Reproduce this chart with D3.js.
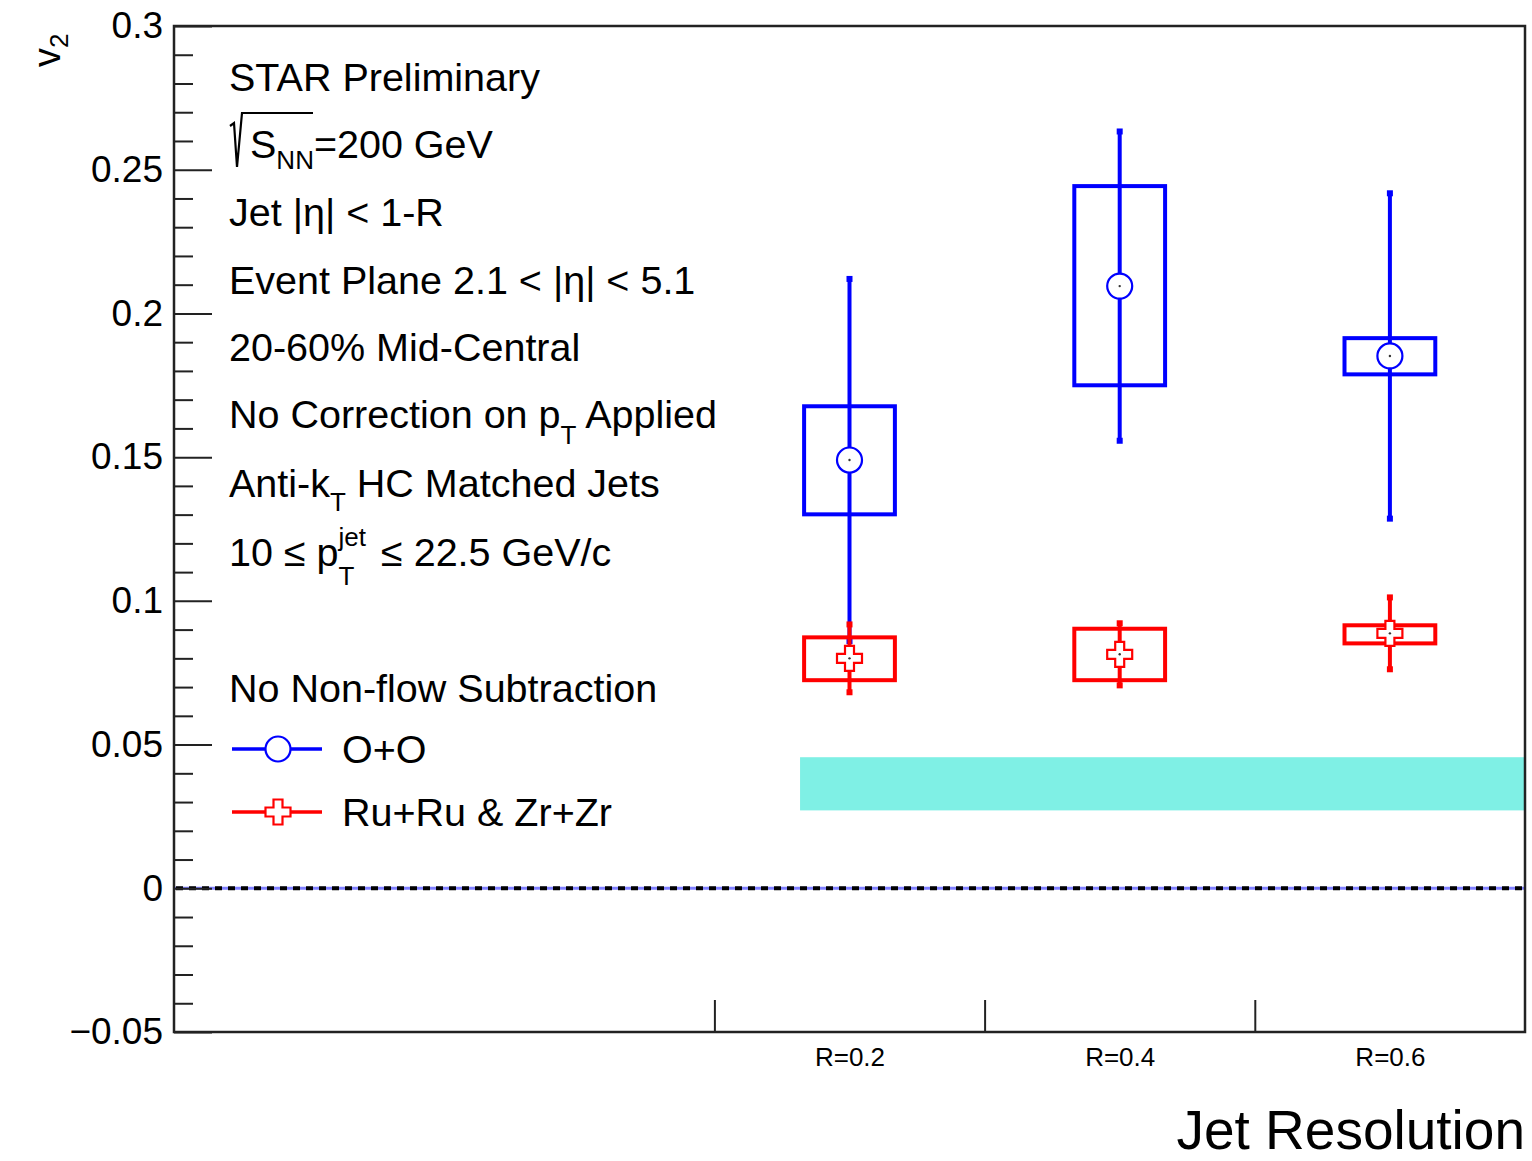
<!DOCTYPE html>
<html>
<head>
<meta charset="utf-8">
<script src="https://cdn.jsdelivr.net/npm/d3@7"></script>
<style>
  html, body { margin: 0; padding: 0; background: #fff; }
  text { font-family: "Liberation Sans", Arial, Helvetica, sans-serif; fill: #000; }
</style>
</head>
<body>
<svg id="chart" width="1532" height="1161"></svg>
<script>
// ---------------- data ----------------
const categories = ["R=0.2", "R=0.4", "R=0.6"];
const binIndex = [2.5, 3.5, 4.5];           // bin centres on a 5-bin axis (0..5)
const binEdgeTicks = [2, 3, 4];

const series = ["O+O", "Ru+Ru & Zr+Zr"];

const ooValue   = [0.149, 0.2095, 0.1852];
const ooStatErr = [0.063, 0.0538, 0.0566];
const ooSysLow  = [0.1301, 0.1750, 0.1788];
const ooSysHigh = [0.1677, 0.2443, 0.1914];

const ruValue   = [0.0800, 0.0814, 0.0887];
const ruStatErr = [0.0118, 0.0108, 0.0125];
const ruSysLow  = [0.0724, 0.0724, 0.0852];
const ruSysHigh = [0.0873, 0.0903, 0.0915];

const boxHalfWidth = 0.168;   // in bin units

const bandX = [2.317, 5];          // cyan band extent
const bandY = [0.0271, 0.0456];

const yMajorTicks = [-0.05, 0, 0.05, 0.1, 0.15, 0.2, 0.25, 0.3];
const yTickLabels = ["\u22120.05", "0", "0.05", "0.1", "0.15", "0.2", "0.25", "0.3"];

const infoLines = [
  "STAR Preliminary",
  "SQRT",
  "Jet |\u03b7| < 1-R",
  "Event Plane 2.1 < |\u03b7| < 5.1",
  "20-60% Mid-Central",
  "PT_CORR",
  "ANTIKT",
  "PTJET",
  "",
  "No Non-flow Subtraction"
];

// ---------------- layout ----------------
const svg = d3.select("#chart");
const L = 174, R = 1525, T = 26, B = 1032;
const x = d3.scaleLinear().domain([0, 5]).range([L, R]);
const y = d3.scaleLinear().domain([-0.05, 0.3]).range([B, T]);

const blue = "#0000ff", red = "#ff0000";

// cyan band
svg.append("rect")
  .attr("x", x(bandX[0])).attr("y", y(bandY[1]))
  .attr("width", x(bandX[1]) - x(bandX[0]))
  .attr("height", y(bandY[0]) - y(bandY[1]))
  .attr("fill", "#7ff0e5");

// zero line: blue underline + black dashes
svg.append("line").attr("x1", L).attr("x2", R).attr("y1", y(0)).attr("y2", y(0))
  .attr("stroke", "#8080ff").attr("stroke-width", 3);
svg.append("line").attr("x1", L + 2).attr("x2", R).attr("y1", y(0)).attr("y2", y(0))
  .attr("stroke", "#000").attr("stroke-width", 4).attr("stroke-dasharray", "7,6");

// y axis major + minor
const yMinor = d3.range(-0.05, 0.3001, 0.01).filter(v => Math.abs(v / 0.05 - Math.round(v / 0.05)) > 1e-6);
svg.append("g").attr("transform", `translate(${L},0)`)
  .call(d3.axisLeft(y).tickValues(yMinor).tickSize(-19).tickFormat(""))
  .call(g => g.select(".domain").remove())
  .call(g => g.selectAll("line").attr("stroke", "#222").attr("stroke-width", 2));
svg.append("g").attr("transform", `translate(${L},0)`)
  .call(d3.axisLeft(y).tickValues(yMajorTicks).tickSize(-38).tickPadding(11)
        .tickFormat((d, i) => yTickLabels[i]))
  .call(g => g.select(".domain").remove())
  .call(g => g.selectAll("line").attr("stroke", "#222").attr("stroke-width", 2))
  .call(g => g.selectAll("text").attr("font-size", 37)
        .attr("font-family", "'Liberation Sans', Arial, sans-serif").attr("fill", "#000"));

// x axis ticks at bin edges
svg.append("g").attr("transform", `translate(0,${B})`)
  .call(d3.axisBottom(x).tickValues(binEdgeTicks).tickSize(-32).tickFormat(""))
  .call(g => g.select(".domain").remove())
  .call(g => g.selectAll("line").attr("stroke", "#222").attr("stroke-width", 2));
// x labels at bin centres
svg.append("g").attr("transform", `translate(0,${B})`)
  .call(d3.axisBottom(x).tickValues(binIndex).tickSize(0).tickPadding(16)
        .tickFormat((d, i) => categories[i]))
  .call(g => g.select(".domain").remove())
  .call(g => g.selectAll("text").attr("font-size", 26)
        .attr("font-family", "'Liberation Sans', Arial, sans-serif").attr("fill", "#000"));

// frame
svg.append("rect").attr("x", L).attr("y", T).attr("width", R - L).attr("height", B - T)
  .attr("fill", "none").attr("stroke", "#222").attr("stroke-width", 2.5);

// axis titles
svg.append("text").attr("x", 1525).attr("y", 1149).attr("text-anchor", "end")
  .attr("font-size", 55).text("Jet Resolution");
const yt = svg.append("text").attr("transform", "translate(60,67) rotate(-90)")
  .attr("font-size", 38);
yt.append("tspan").text("v");
yt.append("tspan").attr("font-size", 26).attr("dy", 8).text("2");

// ---------------- markers ----------------
function circleMarker(g, cx, cy, col) {
  g.append("circle").attr("cx", cx).attr("cy", cy).attr("r", 12.5)
    .attr("fill", "#fff").attr("stroke", col).attr("stroke-width", 2.2);
}
function crossMarker(g, cx, cy, col) {
  const a = 4.5, s = 12.5;
  const pts = [[-a,-s],[a,-s],[a,-a],[s,-a],[s,a],[a,a],[a,s],[-a,s],[-a,a],[-s,a],[-s,-a],[-a,-a]];
  g.append("path").attr("d", "M" + pts.map(p => (cx + p[0]) + "," + (cy + p[1])).join("L") + "Z")
    .attr("fill", "#fff").attr("stroke", col).attr("stroke-width", 2.2);
}
function centreDot(g, cx, cy) {
  g.append("circle").attr("cx", cx).attr("cy", cy).attr("r", 1.2).attr("fill", "#333");
}

function drawSeries(vals, errs, lo, hi, col, marker) {
  const g = svg.append("g");
  vals.forEach((v, i) => {
    const cx = x(binIndex[i]);
    g.append("rect")
      .attr("x", x(binIndex[i] - boxHalfWidth)).attr("y", y(hi[i]))
      .attr("width", x(binIndex[i] + boxHalfWidth) - x(binIndex[i] - boxHalfWidth))
      .attr("height", y(lo[i]) - y(hi[i]))
      .attr("fill", "none").attr("stroke", col).attr("stroke-width", 4);
    g.append("line").attr("x1", cx).attr("x2", cx)
      .attr("y1", y(v + errs[i])).attr("y2", y(v - errs[i]))
      .attr("stroke", col).attr("stroke-width", 4);
    [v + errs[i], v - errs[i]].forEach(e => {
      g.append("rect").attr("x", cx - 3).attr("y", y(e) - 3).attr("width", 6).attr("height", 6).attr("fill", col);
    });
    marker(g, cx, y(v), col);
    centreDot(g, cx, y(v));
  });
}
drawSeries(ooValue, ooStatErr, ooSysLow, ooSysHigh, blue, circleMarker);
drawSeries(ruValue, ruStatErr, ruSysLow, ruSysHigh, red, crossMarker);

// ---------------- info text ----------------
const tx = 229, fs = 39.5, sub = 26;
const baselines = [91, 158, 226, 294, 361, 428, 497, 566, 634, 702];
function plain(yb, s) {
  return svg.append("text").attr("x", tx).attr("y", yb).attr("font-size", fs).text(s);
}
function measure(s, size) {
  const t = svg.append("text").attr("font-size", size).text(s);
  const w = t.node().getComputedTextLength();
  t.remove();
  return w;
}
infoLines.forEach((s, i) => {
  const yb = baselines[i];
  if (s === "SQRT") {
    svg.append("path").attr("d", `M${tx + 1},126 L${tx + 5},123 L${tx + 8},167 L${tx + 13},113 L313,113`)
      .attr("fill", "none").attr("stroke", "#000").attr("stroke-width", 2.2);
    const t = svg.append("text").attr("x", 250).attr("y", yb).attr("font-size", fs);
    t.append("tspan").text("S");
    t.append("tspan").attr("font-size", sub).attr("dy", 11).text("NN");
    t.append("tspan").attr("dy", -11).text("=200 GeV");
  } else if (s === "PT_CORR") {
    const t = svg.append("text").attr("x", tx).attr("y", yb).attr("font-size", fs);
    t.append("tspan").text("No Correction on p");
    t.append("tspan").attr("font-size", sub).attr("dy", 16).text("T");
    t.append("tspan").attr("dy", -16).text(" Applied");
  } else if (s === "ANTIKT") {
    const t = svg.append("text").attr("x", tx).attr("y", yb).attr("font-size", fs);
    t.append("tspan").text("Anti-k");
    t.append("tspan").attr("font-size", sub).attr("dy", 14).text("T");
    t.append("tspan").attr("dy", -14).text(" HC Matched Jets");
  } else if (s === "PTJET") {
    const head = "10 \u2264 p";
    const w0 = measure(head, fs);
    plain(yb, head);
    svg.append("text").attr("x", tx + w0).attr("y", yb - 20).attr("font-size", sub).text("jet");
    svg.append("text").attr("x", tx + w0).attr("y", yb + 19).attr("font-size", sub).text("T");
    const wj = measure("jet", sub);
    svg.append("text").attr("x", tx + w0 + wj + 15).attr("y", yb).attr("font-size", fs)
      .text("\u2264 22.5 GeV/c");
  } else if (s !== "") {
    plain(yb, s);
  }
});

// ---------------- legend ----------------
const legY = [749, 812];
const legCols = [blue, red];
const legMarkers = [circleMarker, crossMarker];
series.forEach((name, i) => {
  svg.append("line").attr("x1", 232).attr("x2", 322).attr("y1", legY[i]).attr("y2", legY[i])
    .attr("stroke", legCols[i]).attr("stroke-width", 3.5);
  legMarkers[i](svg, 278, legY[i], legCols[i]);
  svg.append("text").attr("x", 342).attr("y", legY[i] + 14).attr("font-size", fs).text(name);
});
</script>
</body>
</html>
